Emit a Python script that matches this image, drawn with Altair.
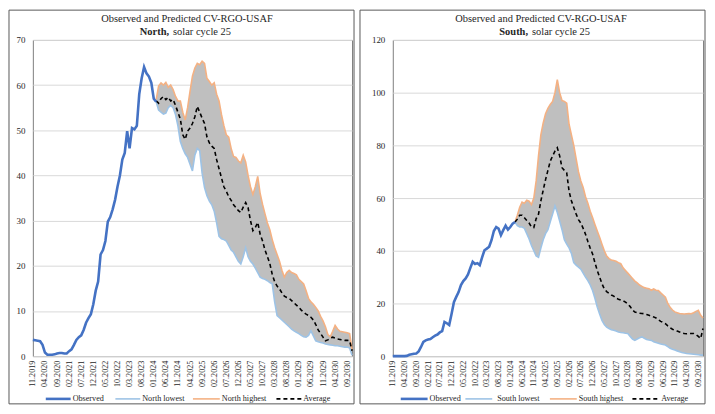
import json
import altair as alt
import pandas as pd

# ---------------- data ----------------
TICK_LABELS = ["11.2019", "04.2020", "09.2020", "02.2021", "07.2021", "12.2021",
               "05.2022", "10.2022", "03.2023", "08.2023", "01.2024", "06.2024",
               "11.2024", "04.2025", "09.2025", "02.2026", "07.2026", "12.2026",
               "05.2027", "10.2027", "03.2028", "08.2028", "01.2029", "06.2029",
               "11.2029", "04.2030", "09.2030"]
N_MONTHS = 133  # monthly categories 11.2019 .. 11.2030

# North hemisphere (observed from 11.2019, predictions from 02.2024)
NORTH_OBS = [3.6, 3.5, 3.4, 3.3, 2.5, 0.8, 0.3, 0.3, 0.3, 0.4, 0.6, 0.7, 0.7, 0.6, 0.6,
             1.1, 1.5, 2.5, 3.6, 4.2, 4.6, 5.8, 7.4, 8.4, 9.3, 11.5, 14.5, 16.5, 22.5,
             23.5, 25.5, 29.8, 30.8, 32.5, 34.6, 37.5, 40.0, 43.5, 45.0, 49.8, 46.0,
             50.5, 50.2, 51.0, 58.0, 61.5, 64.0, 62.6, 61.9, 60.5, 57.0, 56.3]
NORTH_PRED_START = 51
NORTH_HIGH = [56.8, 59.8, 60.5, 60.0, 60.6, 59.5, 60.0, 59.0, 57.5, 56.5, 56.5, 54.0,
              52.3, 55.0, 58.6, 62.0, 63.8, 64.8, 64.5, 65.3, 64.8, 61.5, 60.8, 60.0,
              60.5, 58.0, 56.5, 53.5, 51.0, 49.0, 48.5, 46.0, 44.2, 44.0, 43.2, 42.8,
              44.5, 43.0, 40.0, 37.5, 35.8, 37.5, 39.8, 36.0, 33.6, 31.5, 29.5, 28.0,
              25.8, 24.0, 22.5, 21.0, 19.0, 17.5, 18.5, 19.0, 18.5, 18.3, 18.0, 17.0,
              16.5, 16.0, 14.5, 12.8, 12.0, 11.5, 10.8, 10.0, 8.8, 7.8, 6.5, 4.8, 4.3,
              5.5, 6.8, 6.0, 5.5, 5.4, 5.3, 5.2, 5.0, 1.5]
NORTH_LOW = [56.3, 54.5, 54.0, 53.6, 53.8, 55.0, 55.5, 55.0, 53.5, 51.0, 47.5, 46.0,
             44.8, 44.0, 42.5, 41.0, 44.5, 46.0, 45.5, 40.5, 37.3, 35.5, 34.3, 33.5,
             32.1, 29.5, 26.5, 26.0, 25.8, 25.5, 24.5, 23.5, 23.0, 22.0, 21.0, 20.4,
             22.0, 24.0, 22.0, 21.0, 20.4, 19.5, 18.5, 17.5, 17.2, 17.0, 16.7, 16.3,
             16.0, 12.0, 9.0, 8.5, 8.0, 7.5, 7.0, 6.5, 6.0, 5.6, 5.3, 5.0, 4.6, 4.3,
             4.2, 4.6, 5.6, 4.5, 3.4, 3.2, 3.0, 2.9, 2.7, 2.6, 2.5, 2.4, 2.3, 2.3, 2.2,
             2.1, 2.0, 2.0, 1.8, 0.2]
NORTH_AVG = [56.5, 56.0, 57.0, 57.5, 56.8, 57.3, 56.5, 56.8, 55.5, 54.0, 52.5, 49.0,
             48.0, 49.8, 50.5, 51.5, 53.0, 55.3, 54.0, 52.7, 51.5, 48.5, 47.2, 46.5,
             46.0, 43.5, 41.5, 39.5, 37.5, 36.5, 35.3, 34.5, 33.5, 32.9, 32.2, 31.8,
             33.0, 34.0, 32.9, 30.0, 27.8, 28.5, 29.6, 27.0, 25.5, 23.5, 22.0, 20.5,
             18.1, 16.5, 15.5, 14.9, 14.0, 13.3, 13.0, 12.8, 12.3, 11.8, 11.3, 10.8,
             10.2, 9.7, 9.3, 9.0, 8.6, 8.0, 7.0, 5.8, 5.0, 4.2, 3.4, 3.6, 4.0, 4.2,
             4.0, 3.8, 3.7, 3.6, 3.5, 3.5, 3.4, 1.2]

# South hemisphere
SOUTH_OBS = [0.0, 0.0, 0.0, 0.0, 0.0, 0.0, 0.1, 0.5, 0.7, 0.9, 1.0, 1.8, 3.5, 5.4, 6.0,
             6.3, 6.5, 7.2, 7.8, 8.2, 9.0, 9.5, 13.0, 12.5, 11.8, 16.0, 20.5, 22.5,
             24.3, 27.0, 28.5, 29.5, 31.0, 33.5, 35.8, 35.0, 35.3, 34.5, 37.5, 40.2,
             40.8, 41.5, 44.0, 47.5, 49.0, 48.4, 45.9, 47.8, 49.5, 48.0, 49.0, 50.3, 50.9]
SOUTH_PRED_START = 52
SOUTH_HIGH = [50.9, 53.5, 56.5, 58.5, 58.0, 59.2, 58.8, 57.5, 60.0, 66.5, 76.0, 84.0,
              88.5, 92.0, 94.0, 95.5, 96.7, 100.0, 104.9, 100.0, 97.0, 96.7, 96.0,
              88.0, 84.0, 80.0, 75.0, 70.0, 66.5, 64.0, 60.5, 58.0, 55.0, 52.6, 50.0,
              47.5, 45.1, 42.5, 40.0, 38.0, 37.0, 36.5, 36.3, 36.0, 35.5, 35.1, 33.5,
              32.5, 31.5, 30.5, 29.5, 28.5, 27.8, 27.0, 26.5, 26.0, 25.8, 25.6, 25.0,
              25.5, 25.0, 24.9, 24.0, 23.2, 22.4, 20.0, 18.5, 17.5, 16.8, 16.5, 16.2,
              16.1, 16.0, 16.1, 16.2, 16.1, 16.5, 17.0, 17.4, 15.5, 14.5]
SOUTH_LOW = [50.9, 49.5, 49.0, 49.0, 48.5, 46.5, 44.5, 42.0, 40.0, 38.0, 37.5, 41.0,
             44.2, 46.5, 48.0, 51.0, 53.9, 57.0, 54.5, 51.3, 48.0, 44.2, 42.5, 41.1,
             39.0, 35.5, 34.5, 33.8, 33.0, 31.5, 30.0, 28.7, 27.0, 24.9, 22.0, 18.6,
             16.0, 13.6, 12.0, 11.0, 10.5, 10.0, 9.8, 9.5, 9.2, 9.0, 8.9, 8.7, 8.6,
             7.5, 6.5, 6.0, 6.5, 7.0, 7.3, 6.8, 6.3, 6.1, 6.0, 5.5, 5.2, 4.9, 4.6, 4.4,
             4.2, 3.6, 3.0, 2.6, 2.3, 2.0, 1.7, 1.4, 1.2, 1.0, 0.9, 0.8, 0.7, 0.6, 0.5,
             0.4, 0.4]
SOUTH_AVG = [50.9, 52.0, 53.5, 53.5, 52.5, 51.5, 50.5, 49.0, 48.8, 52.2, 53.9, 58.9,
             63.0, 67.0, 70.5, 74.0, 76.0, 77.8, 79.1, 76.0, 71.5, 70.5, 69.6, 62.6,
             59.0, 56.4, 54.0, 51.8, 50.5, 48.5, 46.3, 43.5, 41.0, 38.8, 35.5, 32.5,
             30.0, 27.5, 25.5, 24.5, 23.8, 23.2, 22.8, 22.0, 21.6, 21.3, 21.0, 20.5,
             19.8, 18.8, 17.5, 16.7, 16.5, 16.3, 16.2, 16.1, 15.8, 15.5, 15.2, 14.9,
             14.5, 13.8, 13.2, 12.8, 12.3, 11.5, 10.8, 10.2, 9.8, 9.5, 9.2, 8.9, 8.6,
             8.5, 8.6, 8.6, 8.6, 8.2, 7.5, 6.7, 10.5]

# ---------------- styling ----------------
FONT = "Liberation Serif"
C_OBS = "#4472c4"
C_LOW = "#9dc3e6"
C_HIGH = "#f4b183"
C_FILL = "#bfbfbf"
TXT = "#262626"
LABEL_EXPR = json.dumps(TICK_LABELS) + "[round(datum.value / 5)]"


def panel(name, obs, start, high, low, avg, ymax, ystep, width, height,
          title_cx, joint, legend_pos):
    obs_df = pd.DataFrame({"m": list(range(len(obs))), "v": obs})
    pred_df = pd.DataFrame({"m": list(range(start, start + len(high))),
                            "hi": high, "lo": low, "avg": avg})
    one = pd.DataFrame({"k": [0]})

    x = alt.X("m:Q",
              scale=alt.Scale(domain=[0, N_MONTHS - 1], nice=False, zero=False),
              axis=alt.Axis(values=list(range(0, N_MONTHS - 1, 5)),
                            labelExpr=LABEL_EXPR, labelAngle=270,
                            labelFont=FONT, labelFontSize=8.2, labelColor=TXT,
                            labelPadding=4, ticks=False, domain=False,
                            grid=False, title=None, labelOverlap=False))
    yscale = alt.Scale(domain=[0, ymax], nice=False)
    yaxis = alt.Axis(values=list(range(0, ymax + 1, ystep)), labelFont=FONT,
                     labelFontSize=9, labelColor=TXT, labelPadding=8,
                     ticks=False, domain=False, grid=True, gridColor="#d9d9d9",
                     title=None)

    frame = alt.Chart(one).mark_rect(fillOpacity=0, stroke="#595959",
                                     strokeWidth=1).encode(
        x=alt.value(-legend_pos["left"]), x2=alt.value(width + 2),
        y=alt.value(-30), y2=alt.value(height + 48))

    area = alt.Chart(pred_df).mark_area(color=C_FILL, opacity=1).encode(
        x=x, y=alt.Y("lo:Q", scale=yscale, axis=yaxis), y2="hi:Q")
    lo = alt.Chart(pred_df).mark_line(color=C_LOW, strokeWidth=1.6).encode(
        x=x, y=alt.Y("lo:Q", scale=yscale))
    hi = alt.Chart(pred_df).mark_line(color=C_HIGH, strokeWidth=1.6).encode(
        x=x, y=alt.Y("hi:Q", scale=yscale))
    av = alt.Chart(pred_df).mark_line(color="black", strokeWidth=1.6,
                                      strokeDash=[4, 3]).encode(
        x=x, y=alt.Y("avg:Q", scale=yscale))
    ob = alt.Chart(obs_df).mark_line(color=C_OBS, strokeWidth=2.6).encode(
        x=x, y=alt.Y("v:Q", scale=yscale))

    t1 = alt.Chart(one).mark_text(font=FONT, fontSize=10.5, color=TXT,
                                  align="center", baseline="middle").encode(
        x=alt.value(title_cx), y=alt.value(-21),
        text=alt.value("Observed and Predicted CV-RGO-USAF"))
    t2a = alt.Chart(one).mark_text(font=FONT, fontSize=10.5, color=TXT,
                                   fontWeight="bold", align="right",
                                   baseline="middle").encode(
        x=alt.value(joint - 1), y=alt.value(-8), text=alt.value(name + ","))
    t2b = alt.Chart(one).mark_text(font=FONT, fontSize=10.5, color=TXT,
                                   align="left", baseline="middle").encode(
        x=alt.value(joint + 3), y=alt.value(-8), text=alt.value("solar cycle 25"))

    ly = height + 43
    items = [("Observed", C_OBS, 2.6, None),
             (name + " lowest", C_LOW, 1.6, None),
             (name + " highest", C_HIGH, 1.6, None),
             ("Average", "black", 1.6, [4, 3])]
    leg = []
    for (lab, col, sw, dash), (x0, x1, xt) in zip(items, legend_pos["items"]):
        kw = dict(color=col, strokeWidth=sw)
        if dash:
            kw["strokeDash"] = dash
        leg.append(alt.Chart(one).mark_rule(**kw).encode(
            x=alt.value(x0), x2=alt.value(x1), y=alt.value(ly)))
        leg.append(alt.Chart(one).mark_text(font=FONT, fontSize=8.2, color=TXT,
                                            align="left", baseline="middle").encode(
            x=alt.value(xt), y=alt.value(ly), text=alt.value(lab)))

    return alt.layer(frame, area, lo, hi, av, ob, t1, t2a, t2b, *leg).properties(
        width=width, height=height)


north = panel("North", NORTH_OBS, NORTH_PRED_START, NORTH_HIGH, NORTH_LOW, NORTH_AVG,
              70, 10, 321, 318, title_cx=155, joint=138,
              legend_pos={"left": 24,
                          "items": [(13, 38, 40), (83, 108, 110),
                                    (161, 188, 190), (245, 270, 272)]})
south = panel("South", SOUTH_OBS, SOUTH_PRED_START, SOUTH_HIGH, SOUTH_LOW, SOUTH_AVG,
              120, 20, 312, 318, title_cx=149, joint=137,
              legend_pos={"left": 33,
                          "items": [(8, 35, 37), (73, 100, 105),
                                    (158, 185, 187), (241, 268, 270)]})

chart = alt.hconcat(north, south, spacing=3).properties(
    padding=0, background="white"
).configure_view(stroke="#7f7f7f", strokeWidth=1)

chart.save("out.html", embed_options={"renderer": "svg", "actions": False})
